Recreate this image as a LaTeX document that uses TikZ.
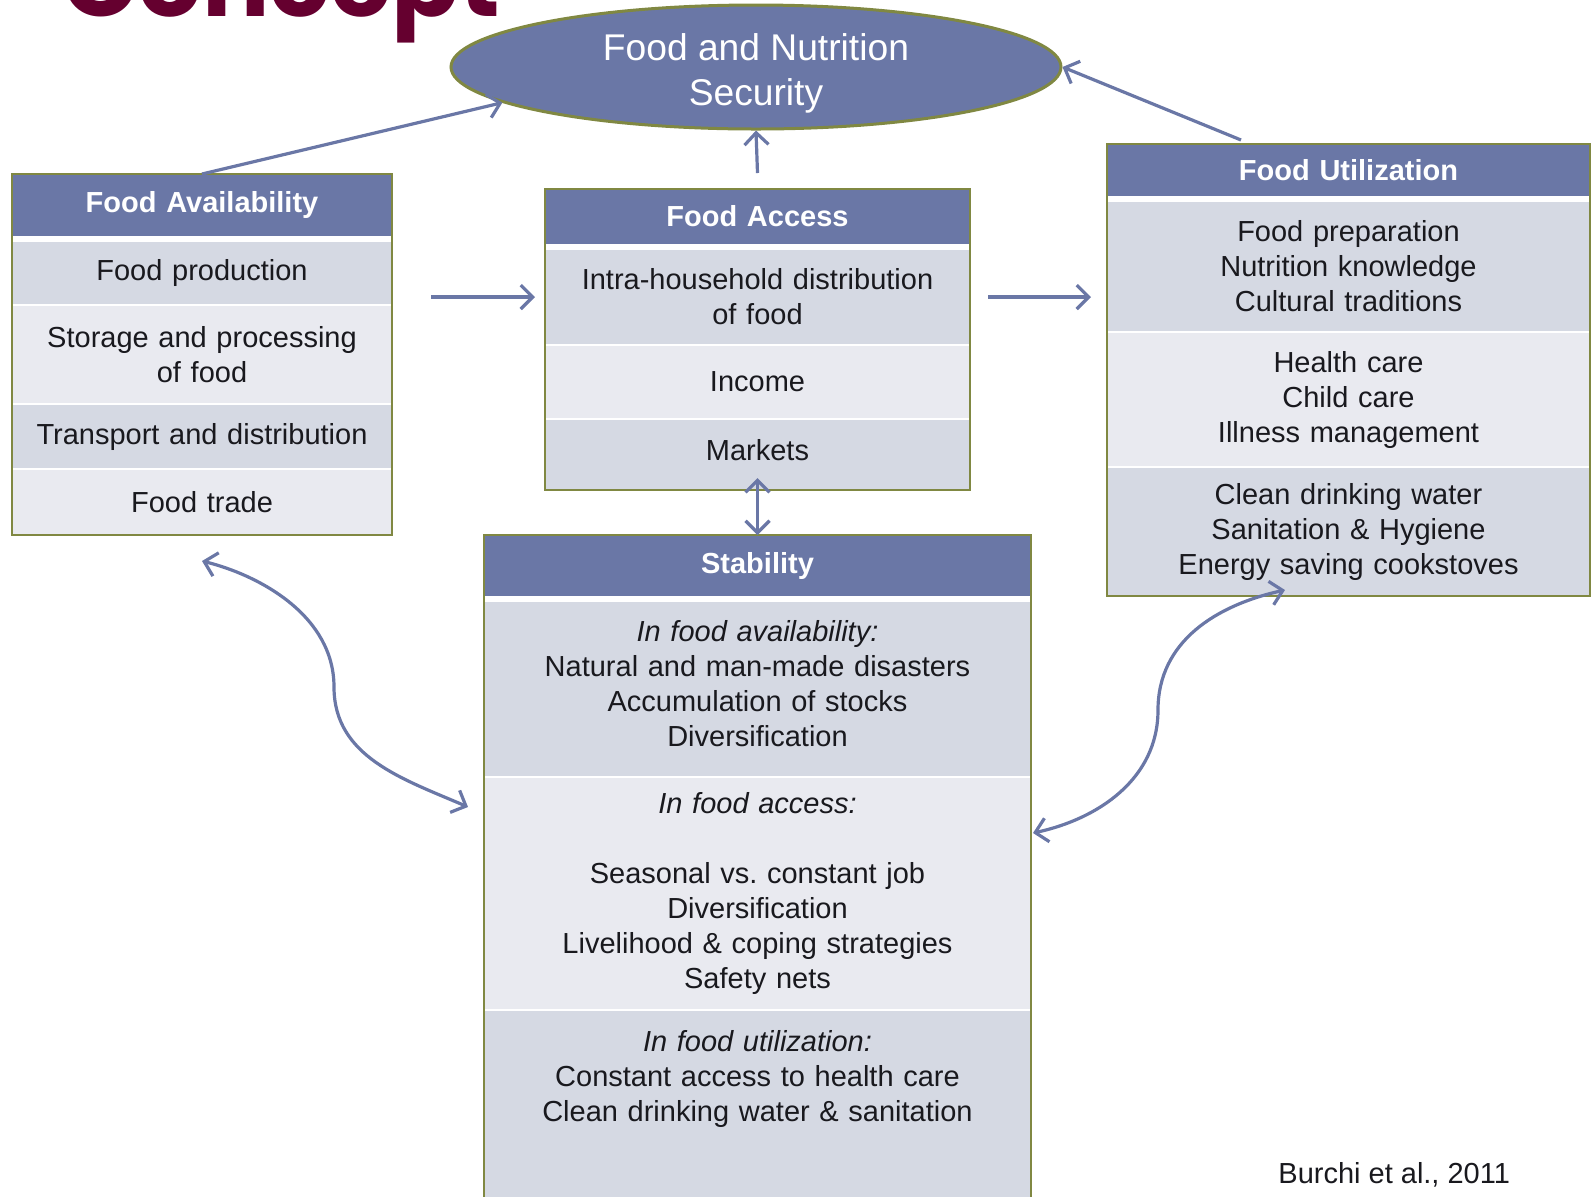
\documentclass[tikz,border=0pt]{standalone}
\usepackage{fontspec}
\setmainfont{Liberation Sans}
\newfontfamily\titlefont{Poppins}
\usetikzlibrary{arrows.meta,positioning,shapes.geometric,calc}

\definecolor{fnsblue}{RGB}{106,119,166}
\definecolor{rowdark}{RGB}{213,217,227}
\definecolor{rowlight}{RGB}{233,234,240}
\definecolor{boxolive}{RGB}{128,136,66}
\definecolor{titlered}{RGB}{101,0,47}
\definecolor{inkgray}{RGB}{25,25,30}

\newcommand{\bodysize}{\fontsize{14.5pt}{17.5pt}\selectfont}

\tikzset{
  headbox/.style={fill=fnsblue, text=white, font=\bodysize\bfseries,
    inner sep=0pt, outer sep=0pt, align=center},
  cellbox/.style={draw=white, line width=0.8pt, text=inkgray, font=\bodysize,
    inner sep=0pt, outer sep=0pt, align=center},
  darkcell/.style={cellbox, fill=rowdark},
  lightcell/.style={cellbox, fill=rowlight},
  frame/.style={draw=boxolive, line width=1pt},
  link/.style={draw=fnsblue, line width=1.6pt, ->},
}

\begin{document}
\begin{tikzpicture}[x=0.5pt,y=-0.5pt,>={Straight Barb[length=6pt,width=12pt]}]

\useasboundingbox (0,0) rectangle (1592,1196);
\clip (0,0) rectangle (1592,1196);

\node[anchor=base west, inner sep=0pt, text=titlered,
  font=\titlefont\bfseries\fontsize{50pt}{50pt}\selectfont] (title) at (62,16) {Concept};

% goal
\node[ellipse, fill=fnsblue, draw=boxolive, line width=1.5pt, inner sep=0pt,
  minimum width=305pt, minimum height=62pt] (fns) at (756,67) {};
\node[text=white, align=center, inner sep=0pt,
  font=\fontsize{18.6pt}{22.4pt}\selectfont] (fnstext) at ([yshift=-3pt]fns.center) {Food and Nutrition\\Security};

% food availability
\node[headbox, text width=190pt, minimum height=31pt, anchor=north] (avhead) at (202,174) {Food Availability};
\node[darkcell, text width=190pt, minimum height=32pt, below=2.5pt of avhead] (av1) {Food production};
\node[lightcell, text width=190pt, minimum height=49.5pt, below=0pt of av1] (av2) {Storage and processing\\of food};
\node[darkcell, text width=190pt, minimum height=32.5pt, below=0pt of av2] (av3) {Transport and distribution};
\node[lightcell, text width=190pt, minimum height=33pt, below=0pt of av3] (av4) {Food trade};
\draw[frame] (avhead.north west) rectangle (av4.south east);

% food access
\node[headbox, text width=212.5pt, minimum height=27.5pt, anchor=north] (achead) at (757.5,189) {Food Access};
\node[darkcell, text width=212.5pt, minimum height=48pt, below=2.5pt of achead] (ac1) {Intra-household distribution\\of food};
\node[lightcell, text width=212.5pt, minimum height=37pt, below=0pt of ac1] (ac2) {Income};
\node[darkcell, text width=212.5pt, minimum height=35.5pt, below=0pt of ac2] (ac3) {Markets\\[-13pt]\mbox{}};
\draw[frame] (achead.north west) rectangle (ac3.south east);

% food utilization
\node[headbox, text width=241.5pt, minimum height=26pt, anchor=north] (fuhead) at (1348.5,144) {Food Utilization};
\node[darkcell, text width=241.5pt, minimum height=65.5pt, below=2.5pt of fuhead] (fu1) {Food preparation\\Nutrition knowledge\\Cultural traditions};
\node[lightcell, text width=241.5pt, minimum height=67.5pt, below=0pt of fu1] (fu2) {Health care\\Child care\\Illness management};
\node[darkcell, text width=241.5pt, minimum height=64.5pt, below=0pt of fu2] (fu3) {Clean drinking water\\Sanitation \& Hygiene\\Energy saving cookstoves};
\draw[frame] (fuhead.north west) rectangle (fu3.south east);

% stability
\node[headbox, text width=273.5pt, minimum height=30.5pt, anchor=north] (sthead) at (757.5,535) {Stability};
\node[darkcell, text width=273.5pt, minimum height=88pt, below=2.5pt of sthead] (st1)
  {\textit{In food availability:}\\Natural and man-made disasters\\Accumulation of stocks\\Diversification\\[-11.5pt]\mbox{}};
\node[lightcell, text width=273.5pt, minimum height=116.5pt, below=0pt of st1] (st2)
  {\textit{In food access:}\\[17.5pt]Seasonal vs.\ constant job\\Diversification\\Livelihood \& coping strategies\\Safety nets};
\node[darkcell, text width=273.5pt, minimum height=95pt, below=0pt of st2] (st3)
  {\textit{In food utilization:}\\Constant access to health care\\Clean drinking water \& sanitation\\[12pt]\mbox{}};
\draw[frame] (sthead.north west) rectangle (st3.south east);

% links
\draw[link] (avhead.north) -- (fns.188);
\draw[link] ($(fuhead.north west)+(134,-4)$) -- (fns.east);
\draw[link] ([yshift=8pt]achead.north) -- (fns.south);
\draw[link, shorten <=19.5pt, shorten >=5pt] (av1.east |- ac1.west) -- (ac1.west);
\draw[link, shorten <=9pt, shorten >=8pt] (ac1.east) -- (ac1.east -| fu1.west);
\draw[link, <->] ([yshift=6pt]ac3.south) -- (sthead.north);

\draw[link, <->] ([yshift=-13pt]av4.south) .. controls +(60,15) and +(0,-70) .. (334,687)
  .. controls +(0,70) and +(-65,-28) .. ([xshift=-8pt,yshift=-15pt]st2.north west);
\draw[link, <->] ([xshift=1pt,yshift=-28pt]st2.north east) .. controls +(65,-14) and +(0,69) .. (1158,710)
  .. controls +(0,-69) and +(-68,15) .. ([xshift=89pt,yshift=3pt]fu3.south west);

\node[anchor=base west, inner sep=0pt, text=inkgray, font=\bodysize] (cite) at (1278,1183) {Burchi et al., 2011};

\end{tikzpicture}
\end{document}
